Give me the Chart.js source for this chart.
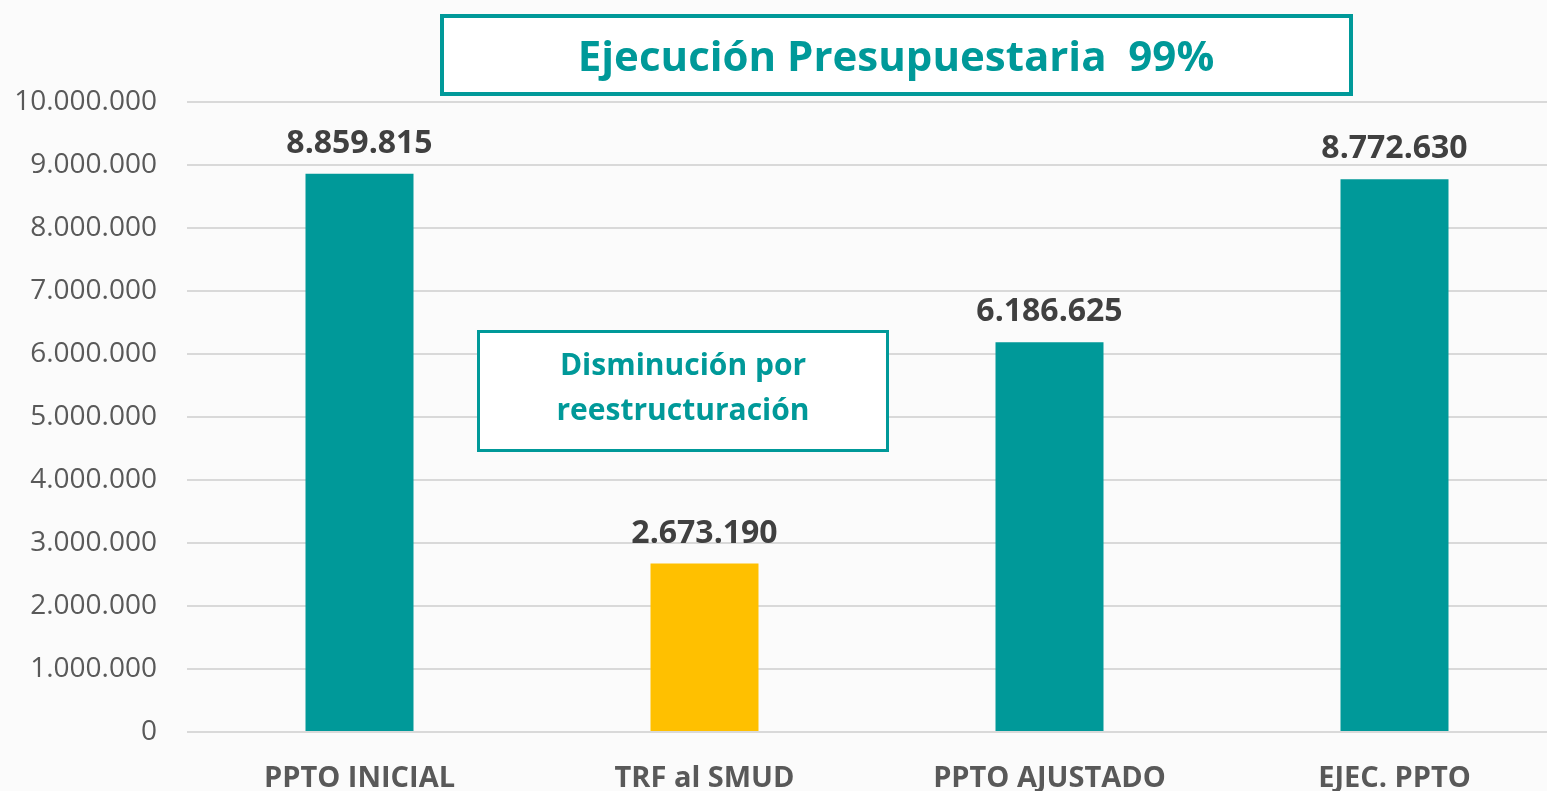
<!DOCTYPE html>
<html>
<head>
<meta charset="utf-8">
<script src="https://cdn.jsdelivr.net/npm/chart.js@4/dist/chart.umd.min.js"></script>
<style>
  html, body { margin: 0; padding: 0; background: #fbfbfb; overflow: hidden; }
  canvas { display: block; }
</style>
</head>
<body>
<canvas id="budgetChart" width="1567" height="795"></canvas>
<script>
const categories = ['PPTO INICIAL', 'TRF al SMUD', 'PPTO AJUSTADO', 'EJEC. PPTO'];
const amounts = [8859815, 2673190, 6186625, 8772630];
const barColors = ['#009999', '#ffc000', '#009999', '#009999'];
const titleText = 'Ejecución Presupuestaria  99%';
const noteLines = ['Disminución por', 'reestructuración'];

const TEAL = '#009999';
const FONT = '"Open Sans", sans-serif';

const fmt = (v) => Math.round(v).toString().replace(/\B(?=(\d{3})+(?!\d))/g, '.');

const ctx = document.getElementById('budgetChart').getContext('2d');

const chart = new Chart(ctx, {
  type: 'bar',
  data: {
    labels: categories,
    datasets: [{
      data: amounts,
      backgroundColor: barColors,
      borderWidth: 0,
      categoryPercentage: 1,
      barPercentage: 0.313
    }]
  },
  options: {
    responsive: false,
    animation: false,
    layout: { padding: { top: 102, left: 0, right: 0, bottom: 0 } },
    plugins: {
      legend: { display: false },
      tooltip: { enabled: false }
    },
    scales: {
      x: {
        afterFit: (scale) => { scale.height = 63; },
        grid: { display: false },
        border: { display: false },
        ticks: {
          color: '#595959',
          padding: 21,
          font: { family: FONT, size: 29, weight: 'bold' },
          maxRotation: 0
        }
      },
      y: {
        min: 0,
        max: 10000000,
        afterFit: (scale) => { scale.width = 187; },
        grid: { color: '#d9d9d9', lineWidth: 2, drawTicks: false },
        border: { display: false },
        ticks: {
          stepSize: 1000000,
          padding: 30,
          color: '#595959',
          font: { family: FONT, size: 28 },
          callback: (value) => fmt(value)
        }
      }
    }
  },
  plugins: [{
    id: 'boxesAndLabels',
    afterDatasetsDraw(chart) {
      const { ctx } = chart;
      const meta = chart.getDatasetMeta(0);

      // valores sobre las barras
      ctx.save();
      ctx.fillStyle = '#404040';
      ctx.font = 'bold 32px ' + FONT;
      ctx.textAlign = 'center';
      ctx.textBaseline = 'middle';
      meta.data.forEach((bar, i) => {
        ctx.fillText(fmt(amounts[i]), bar.x, bar.y - 30);
      });
      ctx.restore();

      // cuadro del título
      ctx.save();
      ctx.fillStyle = '#ffffff';
      ctx.fillRect(442, 16, 909, 78);
      ctx.strokeStyle = TEAL;
      ctx.lineWidth = 4;
      ctx.strokeRect(442, 16, 909, 78);
      ctx.fillStyle = TEAL;
      ctx.font = 'bold 42px ' + FONT;
      ctx.textAlign = 'center';
      ctx.textBaseline = 'middle';
      ctx.fillText(titleText, 896, 59);
      ctx.restore();

      // cuadro de nota
      ctx.save();
      ctx.fillStyle = '#ffffff';
      ctx.fillRect(478.5, 331.5, 409, 119);
      ctx.strokeStyle = TEAL;
      ctx.lineWidth = 3;
      ctx.strokeRect(478.5, 331.5, 409, 119);
      ctx.fillStyle = TEAL;
      ctx.font = 'bold 30px ' + FONT;
      ctx.textAlign = 'center';
      ctx.textBaseline = 'middle';
      noteLines.forEach((line, i) => {
        ctx.fillText(line, 683, 366 + i * 45);
      });
      ctx.restore();
    }
  }]
});
</script>
</body>
</html>
